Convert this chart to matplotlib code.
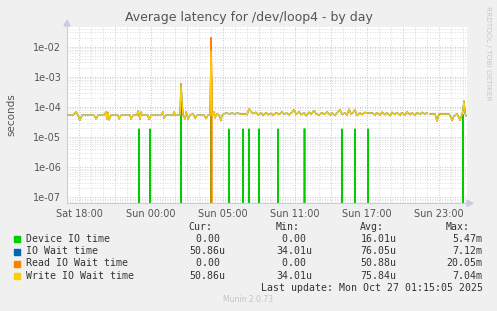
import matplotlib
matplotlib.use("Agg")
import matplotlib.pyplot as plt
import numpy as np
from matplotlib.patches import Rectangle, Polygon

# time in hours since Sun 00:00 (continuous clock), 5 minute samples
step = 1 / 12.0
t_start, t_end = -7.0, 26.33

# Write IO Wait time (yellow): hour, seconds
write_t = [-7.00, -6.50, -6.25, -6.08, -5.92, -5.75, -4.75, -4.58, -4.42, -3.92,
           -3.75, -3.67, -3.58, -3.50, -3.33, -2.75, -2.67, -2.50, -1.75, -1.67,
           -1.50, -1.17, -1.08, -0.92, -0.83, -0.75, -0.25, -0.17, 0.00, 0.83,
           1.00, 1.08, 1.25, 1.83, 1.92, 2.00, 2.42, 2.50, 2.58, 2.67,
           2.83, 2.92, 3.08, 3.25, 3.50, 3.67, 3.83, 4.42, 4.58, 4.75,
           4.92, 5.00, 5.08, 5.25, 5.33, 5.50, 5.67, 5.83, 5.92, 6.08,
           6.25, 6.58, 6.75, 6.92, 7.25, 7.42, 7.83, 8.00, 8.17, 8.33,
           8.50, 8.75, 8.92, 9.17, 9.33, 9.58, 9.75, 10.00, 10.17, 10.42,
           10.67, 10.92, 11.08, 11.33, 11.50, 11.75, 11.92, 12.08, 12.33, 12.50,
           12.75, 12.92, 13.17, 13.33, 13.58, 13.75, 14.00, 14.25, 14.42, 14.67,
           14.92, 15.08, 15.33, 15.50, 15.75, 15.92, 16.17, 16.33, 16.50, 16.67,
           16.83, 17.00, 17.17, 17.42, 17.58, 17.83, 18.08, 18.42, 18.67, 18.83,
           19.08, 19.25, 19.50, 19.67, 19.92, 20.08, 20.33, 20.50, 20.75, 20.92,
           21.17, 21.33, 21.58, 21.75, 22.00, 22.17, 22.42, 22.58, 22.83, 23.00,
           23.08, 23.25, 23.67, 23.83, 24.00, 24.83, 25.00, 25.08, 25.25, 25.50,
           25.67, 25.75, 25.92, 26.00, 26.08, 26.17, 26.25]
write_v = [5.3, 5.3, 6.8, 5.3, 3.6, 5.3, 5.3, 4.0, 5.3, 5.3,
           6.8, 4.0, 6.6, 3.7, 5.3, 5.3, 4.0, 5.3, 5.3, 4.0,
           5.3, 5.3, 7.4, 3.9, 6.8, 5.3, 5.3, 3.8, 5.3, 5.3,
           6.8, 4.2, 5.3, 5.3, 6.8, 5.3, 5.3, 60.0, 15.0, 5.3,
           4.0, 6.8, 3.9, 5.3, 6.0, 4.2, 5.3, 5.3, 4.1, 5.3,
           5.3, 704.0, 5.3, 6.8, 4.3, 6.0, 5.3, 3.5, 5.3, 5.8,
           6.3, 5.8, 6.3, 5.8, 6.3, 5.8, 5.8, 5.5, 8.5, 7.0,
           6.0, 6.6, 5.4, 6.3, 5.2, 6.5, 5.5, 6.1, 5.3, 6.4,
           5.6, 6.9, 5.8, 6.2, 5.4, 6.6, 8.2, 5.6, 7.0, 5.5,
           6.3, 5.1, 6.7, 5.6, 7.6, 6.0, 5.3, 6.5, 5.6, 6.8,
           5.4, 6.3, 5.2, 6.4, 8.0, 5.6, 6.4, 5.3, 8.3, 5.8,
           6.4, 8.0, 5.2, 6.3, 5.5, 6.6, 6.2, 6.3, 5.4, 6.4,
           5.3, 6.7, 5.5, 6.3, 5.1, 6.6, 5.6, 6.5, 5.3, 6.4,
           5.4, 6.8, 5.5, 6.3, 5.3, 6.5, 5.6, 6.6, 5.8, 6.3,
           np.nan, 5.8, 5.8, 3.4, 5.8, 5.8, 4.5, 3.5, 5.0, 5.9,
           4.4, 3.6, 5.5, 8.0, 15.8, 6.0, 5.1]
write_v = [v * 1e-5 for v in write_v]

# IO Wait time (blue) sits under the yellow line, only the big spike differs
iowait_v = list(write_v)
iowait_v[write_t.index(5.00)] = 7.12e-3

# Device IO time (green): zero except these samples
device_spikes = {-1.00: 1.85e-5, -0.08: 1.85e-5, 2.50: 5.5e-4, 5.00: 5.47e-3,
                 6.50: 1.85e-5, 7.67: 1.85e-5, 8.17: 1.85e-5, 9.00: 1.85e-5,
                 10.58: 1.85e-5, 12.75: 1.85e-5, 12.83: 1.85e-5, 15.92: 1.85e-5,
                 17.00: 1.85e-5, 18.08: 1.85e-5, 26.00: 5.5e-5}
# Read IO Wait time (orange): zero except these samples
read_spikes = {5.00: 2.005e-2, 5.08: 5e-4}

tick_hours = [-6, 0, 6, 12, 18, 24]
tick_labels = ["Sat 18:00", "Sun 00:00", "Sun 05:00", "Sun 11:00", "Sun 17:00", "Sun 23:00"]

names = ["Device IO time", "IO Wait time", "Read IO Wait time", "Write IO Wait time"]
colors = ["#00CC00", "#0066B3", "#FF8000", "#FFCC00"]
cur = ["0.00 ", "50.86u", "0.00 ", "50.86u"]
mins = ["0.00 ", "34.01u", "0.00 ", "34.01u"]
avgs = ["16.01u", "76.05u", "50.88u", "75.84u"]
maxs = ["5.47m", "7.12m", "20.05m", "7.04m"]

grid_t = np.arange(400) * step + t_start


def on_grid(spikes):
    vals = np.zeros(len(grid_t))
    for h, v in spikes.items():
        vals[int(round((h - t_start) / step))] = v
    return vals


W, H = 497, 311
fig = plt.figure(figsize=(W / 100, H / 100), dpi=100, facecolor="#F0F0F0")
ax = fig.add_axes([67 / W, 1 - 203.3 / H, 400 / W, (203.3 - 26.7) / H])
ax.set_facecolor("white")
ax.set_yscale("log", nonpositive="clip")
ax.set_xlim(t_start, t_end)
ax.set_ylim(6.3e-8, 0.046)

# grid
for h in np.arange(-7, 27, 1):
    col = "#E8A0A0" if h % 3 == 0 else "#D0D0D0"
    ax.axvline(h, color=col, lw=0.6, ls=(0, (1, 2)), zorder=0)
for d in range(-8, -1):
    for m in range(1, 10):
        col = "#E8A0A0" if m == 1 else "#D0D0D0"
        ax.axhline(m * 10.0 ** d, color=col, lw=0.6, ls=(0, (1, 2)), zorder=0)

lw = 1.0
ax.plot(grid_t, on_grid(device_spikes), color=colors[0], lw=lw, zorder=2)
ax.plot(write_t, iowait_v, color=colors[1], lw=lw, zorder=3)
ax.plot(grid_t, on_grid(read_spikes), color=colors[2], lw=lw, zorder=4)
ax.plot(write_t, write_v, color=colors[3], lw=lw, zorder=5)

ax.set_xticks(tick_hours)
ax.set_xticklabels(tick_labels)
ax.set_yticks([1e-7, 1e-6, 1e-5, 1e-4, 1e-3, 1e-2])
ax.set_yticklabels(["1e-07", "1e-06", "1e-05", "1e-04", "1e-03", "1e-02"])
ax.yaxis.set_minor_locator(matplotlib.ticker.NullLocator())
ax.tick_params(axis="both", length=0, labelsize=7, labelcolor="#555555", pad=4)
for s in ["top", "right"]:
    ax.spines[s].set_visible(False)
ax.spines["left"].set_color("#C8CCE8")
ax.spines["bottom"].set_color("#C8CCE8")
ax.spines["left"].set_linewidth(0.8)
ax.spines["bottom"].set_linewidth(0.8)

# axis arrows
fig.patches.append(Polygon([[64 / W, 1 - 26 / H], [70 / W, 1 - 26 / H], [67 / W, 1 - 20 / H]],
                           closed=True, color="#C8CCE8", transform=fig.transFigure))
fig.patches.append(Polygon([[467 / W, 1 - 200.3 / H], [467 / W, 1 - 206.3 / H], [473 / W, 1 - 203.3 / H]],
                           closed=True, color="#C8CCE8", transform=fig.transFigure))

fig.text(11 / W, 1 - 115 / H, "seconds", rotation=90, ha="center", va="center",
         fontsize=7.5, color="#555555")
fig.text(248.5 / W, 1 - 18 / H, "Average latency for /dev/loop4 - by day",
         ha="center", va="center", fontsize=9, color="#555555")
fig.text(488 / W, 1 - 53 / H, "RRDTOOL / TOBI OETIKER", rotation=-90,
         ha="center", va="center", fontsize=5.3, color="#C8C8C8")

mono = dict(family="DejaVu Sans Mono", fontsize=7.1, color="#333333", va="center")
fig.text(212.7 / W, 1 - 227 / H, "Cur:", ha="right", **mono)
fig.text(299.3 / W, 1 - 227 / H, "Min:", ha="right", **mono)
fig.text(384 / W, 1 - 227 / H, "Avg:", ha="right", **mono)
fig.text(470 / W, 1 - 227 / H, "Max:", ha="right", **mono)
rows_y = [239.3, 251.5, 263.5, 275.6]
for i, y in enumerate(rows_y):
    fig.patches.append(Rectangle((14.3 / W, 1 - (y + 3) / H), 6 / W, 6 / H,
                                 color=colors[i], transform=fig.transFigure))
    fig.text(26 / W, 1 - y / H, names[i], ha="left", **mono)
    fig.text(225.7 / W, 1 - y / H, cur[i], ha="right", **mono)
    fig.text(312.3 / W, 1 - y / H, mins[i], ha="right", **mono)
    fig.text(396.7 / W, 1 - y / H, avgs[i], ha="right", **mono)
    fig.text(482.7 / W, 1 - y / H, maxs[i], ha="right", **mono)
fig.text(482.7 / W, 1 - 287.7 / H, "Last update: Mon Oct 27 01:15:05 2025", ha="right", **mono)
fig.text(248 / W, 1 - 300 / H, "Munin 2.0.73", ha="center", va="center",
         fontsize=5.5, color="#C4C4C4")

fig.savefig("out.png", dpi=100, facecolor=fig.get_facecolor())
